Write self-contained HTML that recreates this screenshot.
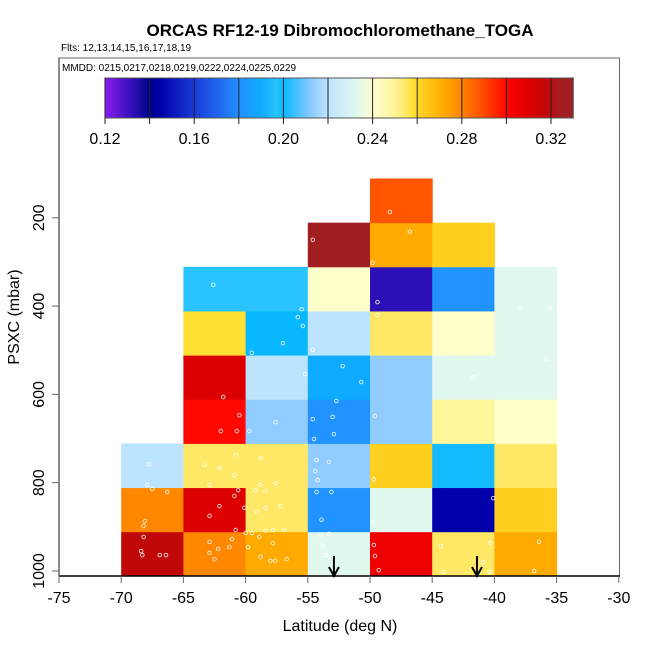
<!DOCTYPE html>
<html><head><meta charset="utf-8"><style>
html,body{margin:0;padding:0;background:#fff;}
svg{display:block;font-family:"Liberation Sans",sans-serif;}
</style></head><body>
<svg id="chart" width="650" height="650" viewBox="0 0 650 650" xmlns="http://www.w3.org/2000/svg">
<text x="340" y="36" text-anchor="middle" font-size="17" font-weight="bold">ORCAS RF12-19 Dibromochloromethane_TOGA</text>
<text x="61" y="51" font-size="10">Flts: 12,13,14,15,16,17,18,19</text>
<rect x="59" y="58" width="560.5" height="518" fill="none" stroke="#666" stroke-width="1"/>
<text x="62" y="71" font-size="10">MMDD: 0215,0217,0218,0219,0222,0224,0225,0229</text>
<g id="cells"></g>
<g id="pts"></g>
<g id="cbar"></g>
<g id="axes"></g>
<text x="340" y="631" text-anchor="middle" font-size="16">Latitude (deg N)</text>
<text transform="translate(19,317) rotate(-90)" text-anchor="middle" font-size="16">PSXC (mbar)</text>
</svg>
<script>
const latEdges = [-70,-65,-60,-55,-50,-45,-40,-35];
const presEdges = [1011,911,811,711,611,511,411,311,211,111];
const row0 = [0.318,0.279,0.272,0.233,0.305,0.255,0.272];
const row1 = [0.279,0.31,0.255,0.181,0.233,0.145,0.262];
const row2 = [0.22,0.255,0.255,0.213,0.262,0.199,0.255];
const row3 = [null,0.30,0.213,0.181,0.213,0.25,0.241];
const row4 = [null,0.31,0.22,0.19,0.213,0.233,0.233];
const row5 = [null,0.258,0.20,0.22,0.255,0.241,0.233];
const row6 = [null,0.197,0.197,0.241,0.133,0.181,0.233];
const row7 = [null,null,null,0.325,0.272,0.262,null];
const row8 = [null,null,null,null,0.288,null,null];
const rows = [row0,row1,row2,row3,row4,row5,row6,row7,row8];
const ptLat = [-62.6,-55.5,-55.8,-55.4,-57.0,-59.5,-55.2,-50.7,-52.7,-61.8,-60.5,-57.6,-59.7,-60.7,-54.6,-53.0,-54.5,-52.9,-49.6,-52.2,-54.6,-49.4,-49.4,-37.9,-35.5,-35.8,-41.7,-54.6,-49.8,-48.4,-46.8,-62.0,-67.8,-63.3,-62.1,-60.8,-60.9,-58.8,-62.9,-58.8,-57.6,-67.9,-67.5,-66.3,-60.9,-60.6,-59.2,-58.4,-62.1,-60.1,-62.9,-59.1,-58.4,-57.2,-68.1,-68.2,-60.8,-60.0,-59.5,-58.4,-57.8,-56.9,-68.2,-62.9,-61.1,-58.9,-57.8,-68.4,-68.3,-62.9,-62.5,-62.2,-61.3,-59.8,-58.8,-58.0,-57.6,-56.7,-66.9,-66.4,-54.3,-53.3,-54.4,-54.2,-54.3,-53.1,-53.9,-54.0,-53.3,-53.8,-53.5,-49.7,-49.8,-49.7,-49.6,-49.3,-44.3,-40.3,-40.9,-44.1,-40.4,-36.4,-36.8,-40.1];
const ptPres = [352,407,425,445,484,506,554,572,615,606,647,663,683,683,656,651,701,690,649,536,499,420,391,404,404,520,561,250,302,187,232,683,758,760,767,737,783,744,805,805,801,805,814,821,830,817,817,819,853,857,875,866,857,853,887,898,907,914,914,909,907,907,923,934,928,923,937,955,964,959,973,950,946,946,968,977,977,973,964,964,749,753,774,794,821,821,884,918,916,943,964,792,889,941,966,998,943,937,980,1002,1002,934,1000,835];
const arrowLat = [-52.9,-41.4];
const xTicks = [-75,-70,-65,-60,-55,-50,-45,-40,-35,-30];
const yTicks = [200,400,600,800,1000];
const cbTicks = [0.12,0.14,0.16,0.18,0.20,0.22,0.24,0.26,0.28,0.30,0.32];
const cbLabels = ["0.12","0.16","0.20","0.24","0.28","0.32"];
const stops = [[0.12,'#8a1cf0'],[0.133,'#2c0fb5'],[0.14,'#000088'],[0.145,'#0000aa'],[0.16,'#1a3ad8'],[0.18,'#2290ff'],[0.19,'#0daaff'],[0.197,'#29c4ff'],[0.20,'#08b8ff'],[0.213,'#90ccff'],[0.22,'#bde4ff'],[0.233,'#e0f8ee'],[0.241,'#ffffcc'],[0.25,'#fff599'],[0.255,'#ffe866'],[0.258,'#ffe033'],[0.262,'#ffd020'],[0.272,'#ffaa00'],[0.279,'#ff8800'],[0.288,'#ff5500'],[0.30,'#ff0800'],[0.305,'#ee0000'],[0.31,'#dd0000'],[0.318,'#c00808'],[0.325,'#a01e22'],[0.33,'#a01e22']];

const NS='http://www.w3.org/2000/svg';
function x(lat){return 59+(lat+75)*12.44;}
function y(p){return 571+(p-1000)*0.4415;}
function cbx(v){return 105+(v-0.12)*2230;}
function hex(c){return [1,3,5].map(i=>parseInt(c.substr(i,2),16));}
function color(v){
  if(v<=stops[0][0])return stops[0][1];
  for(let i=1;i<stops.length;i++){
    if(v<=stops[i][0]){
      const a=hex(stops[i-1][1]),b=hex(stops[i][1]);
      const t=(v-stops[i-1][0])/(stops[i][0]-stops[i-1][0]);
      return 'rgb('+a.map((c,k)=>Math.round(c+(b[k]-c)*t)).join(',')+')';
    }
  }
  return stops[stops.length-1][1];
}
function mk(tag,attrs,parent){const e=document.createElementNS(NS,tag);for(const k in attrs)e.setAttribute(k,attrs[k]);parent.appendChild(e);return e;}

const cells=document.getElementById('cells');
rows.forEach((r,ri)=>{r.forEach((v,ci)=>{
  if(v===null)return;
  const x0=x(latEdges[ci]),x1=x(latEdges[ci+1]),y0=y(presEdges[ri+1]),y1=y(presEdges[ri]);
  const e=mk('rect',{x:x0,y:y0,width:x1-x0+0.5,height:y1-y0+0.5,fill:color(v)},cells);
  
  
});});

const pts=document.getElementById('pts');
ptLat.forEach((la,i)=>{
  const e=mk('circle',{cx:x(la),cy:y(ptPres[i]),r:1.8,fill:'none',stroke:'#fff','stroke-width':0.9,opacity:0.85},pts);
  
  
});

const cb=document.getElementById('cbar');
const defs=mk('defs',{},cb);
const lg=mk('linearGradient',{id:'cbg',x1:'0',x2:'1',y1:'0',y2:'0'},defs);
const vmin=0.12,vmax=0.33;
stops.forEach(s=>{mk('stop',{offset:((s[0]-vmin)/(vmax-vmin)),'stop-color':s[1]},lg);});
const cbRect=mk('rect',{x:cbx(vmin),y:78,width:cbx(vmax)-cbx(vmin),height:40,fill:'url(#cbg)',stroke:'#555','stroke-width':1},cb);


cbTicks.forEach(t=>{
  const l=mk('line',{x1:cbx(t),x2:cbx(t),y1:78,y2:124,stroke:'#222','stroke-width':1},cb);
  
  
});
cbLabels.forEach(s=>{
  const t=mk('text',{x:cbx(parseFloat(s)),y:144,'text-anchor':'middle','font-size':16},cb);
  t.textContent=s;
  
  
});

const ax=document.getElementById('axes');
arrowLat.forEach(la=>{
  const g=mk('g',{},ax);
  
  
  mk('line',{x1:x(la),x2:x(la),y1:556,y2:574,stroke:'#000','stroke-width':2},g);
  mk('path',{d:`M${x(la)-5},${567} L${x(la)},${576} L${x(la)+5},${567}`,fill:'none',stroke:'#000','stroke-width':2},g);
});
mk('line',{x1:59,x2:620,y1:576,y2:576,stroke:'#000','stroke-width':1.5},ax);
mk('line',{x1:59,x2:59,y1:58,y2:576,stroke:'#666','stroke-width':1.5},ax);
xTicks.forEach(t=>{
  mk('line',{x1:x(t),x2:x(t),y1:576,y2:583,stroke:'#666','stroke-width':1},ax);
  const e=mk('text',{x:x(t),y:603,'text-anchor':'middle','font-size':16},ax);
  e.textContent=t;
  
  
});
yTicks.forEach(t=>{
  mk('line',{x1:52,x2:59,y1:y(t),y2:y(t),stroke:'#666','stroke-width':1},ax);
  const e=mk('text',{transform:`translate(44,${y(t)}) rotate(-90)`,'text-anchor':'middle','font-size':16},ax);
  e.textContent=t;
  
  
});
</script>
</body></html>
